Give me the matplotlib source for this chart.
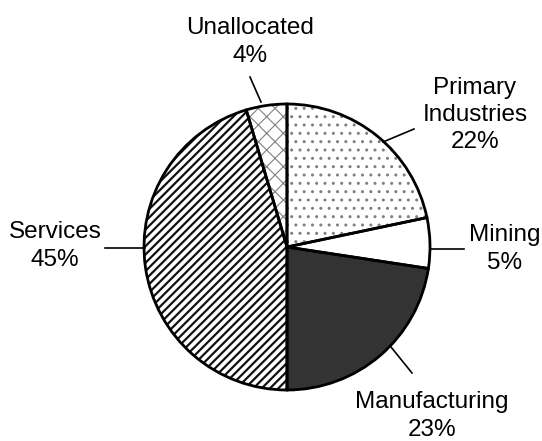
import matplotlib
matplotlib.use("Agg")
import matplotlib.pyplot as plt

plt.rcParams['font.family'] = ['Liberation Sans', 'DejaVu Sans']

labels = ["Primary\nIndustries", "Mining", "Manufacturing", "Services", "Unallocated"]
shares = [21.7, 5.7, 22.6, 45.4, 4.6]
pct_text = ["22%", "5%", "23%", "45%", "4%"]

hatches = ["..", "", "", "////", "xx"]
faces = ["white", "white", "#333333", "white", "white"]
hatch_cols = ["#808080", "white", "#333333", "#111111", "#808080"]
hatch_lw = [1.0, 1.0, 1.0, 1.6, 0.8]

fig = plt.figure(figsize=(5.42, 4.41), dpi=100)
ax = fig.add_axes([0, 0, 1, 1])

H = 441
cx, cy, r = 287, H - 247, 143

# fill + hatch
wedges, _ = ax.pie(shares, startangle=90, counterclock=False, center=(cx, cy),
                   radius=r, frame=True, colors=faces,
                   wedgeprops=dict(linewidth=0))
for w, h, hc, lw in zip(wedges, hatches, hatch_cols, hatch_lw):
    w.set_hatch(h)
    w.set_edgecolor(hc)
    try:
        w.set_hatch_linewidth(lw)
    except AttributeError:
        w._hatch_linewidth = lw

# outlines
ax.pie(shares, startangle=90, counterclock=False, center=(cx, cy), radius=r,
       frame=True, wedgeprops=dict(fill=False, edgecolor='black', linewidth=2))
ax.set_xlim(0, 542)
ax.set_ylim(0, H)
ax.set_aspect('equal')
ax.axis('off')

# leader lines and labels (pixel positions, y measured from top)
leaders = [((383, 142), (414, 129)), ((430, 249), (464, 249)),
           ((391, 347), (412, 373)), ((145, 248), (105, 248)),
           ((261, 102), (250, 77))]
text_pos = [(475, 115), (505, 249), (432, 416), (55, 246), (250, 42)]

for (p0, p1), (tx, ty), lab, pc in zip(leaders, text_pos, labels, pct_text):
    ax.plot([p0[0], p1[0]], [H - p0[1], H - p1[1]], color='black', lw=1.2)
    ax.text(tx, H - ty, lab + "\n" + pc, ha='center', va='center',
            fontsize=17.5, linespacing=1.3)

fig.savefig("out.png", dpi=100)
